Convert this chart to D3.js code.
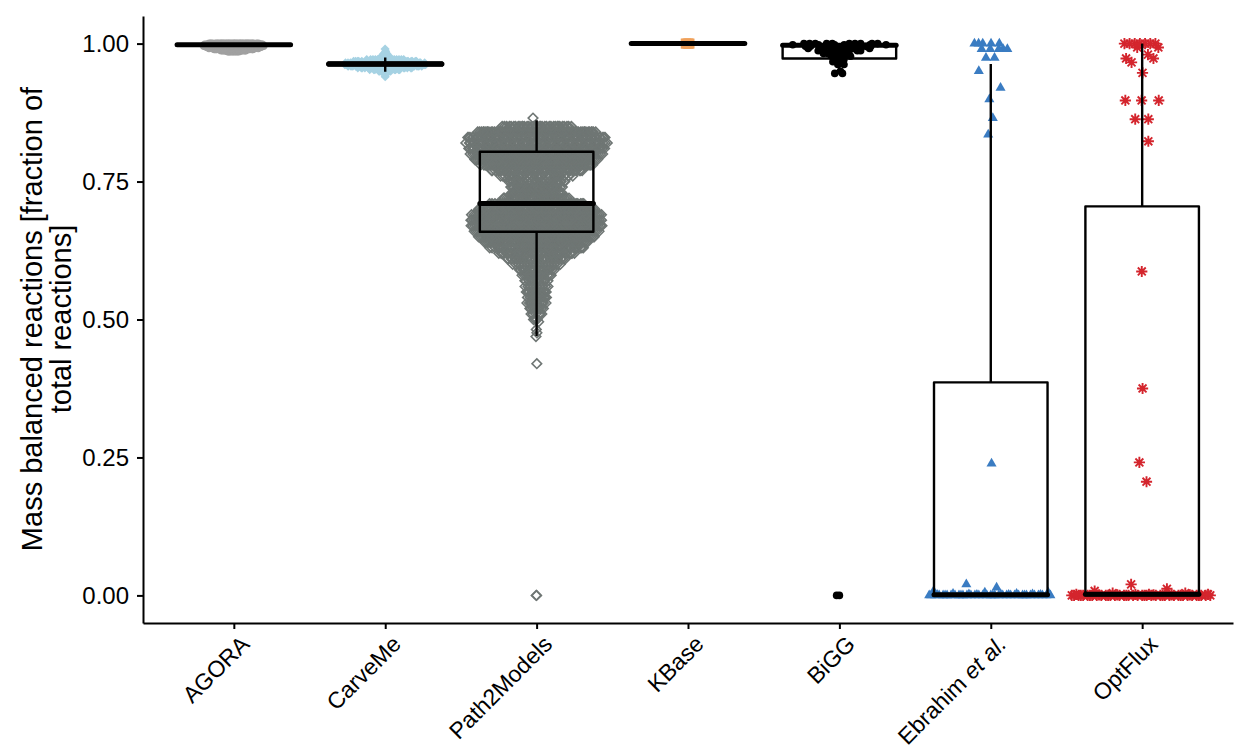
<!DOCTYPE html>
<html>
<head>
<meta charset="utf-8">
<script src="https://cdnjs.cloudflare.com/ajax/libs/d3/7.8.5/d3.min.js"></script>
<style>
  body { margin: 0; background: #ffffff; }
  text { font-family: "Liberation Sans", Arial, sans-serif; }
</style>
</head>
<body>
<div class="chart"></div>
<script>
var categories = ["AGORA", "CarveMe", "Path2Models", "KBase", "BiGG", "Ebrahim et al.", "OptFlux"];
var yTicks = [0, 0.25, 0.5, 0.75, 1.0];

// fraction of mass balanced reactions, and how many models sit at each value
var agoraValues = [0.986, 0.988, 0.99, 0.992, 0.994, 0.996, 0.998, 1.0];
var agoraCounts = [8, 16, 24, 30, 34, 36, 36, 30];

var carvemeValues = [0.94, 0.945, 0.95, 0.953, 0.956, 0.959, 0.962, 0.965, 0.968, 0.971, 0.974, 0.978, 0.982, 0.986, 0.99];
var carvemeCounts = [1, 2, 6, 14, 24, 32, 36, 34, 28, 16, 6, 3, 2, 1, 1];

var path2modelsValues = [0, 0.42, 0.469, 0.476, 0.482, 0.496, 0.50, 0.51, 0.52, 0.53, 0.54, 0.55, 0.56, 0.57,
                         0.58, 0.59, 0.60, 0.61, 0.62, 0.63, 0.64, 0.65, 0.66, 0.67, 0.68, 0.69, 0.70, 0.71,
                         0.72, 0.73, 0.74, 0.75, 0.76, 0.77, 0.78, 0.79, 0.80, 0.81, 0.82, 0.83, 0.84, 0.85, 0.865];
var path2modelsCounts = [2, 1, 1, 1, 1, 1, 3, 6, 9, 11, 11, 12, 12, 12,
                         15, 20, 24, 30, 40, 50, 56, 62, 66, 68, 70, 70, 66, 50,
                         30, 26, 26, 28, 36, 48, 60, 66, 70, 72, 74, 75, 75, 35, 1];

var kbaseValues = [1.0];
var kbaseCounts = [5];

var biggValues = [0, 0.946, 0.95, 0.962, 0.967, 0.971, 0.977, 0.982, 0.987, 0.991, 0.995, 0.998, 1.0];
var biggCounts = [2, 2, 1, 2, 2, 2, 4, 5, 7, 8, 8, 8, 10];

var ebrahimValues = [0, 0.001, 0.002, 0.003, 0.005, 0.008, 0.014, 0.02, 0.239, 0.835, 0.865, 0.899, 0.92, 0.95, 0.974, 0.99, 1.0];
var ebrahimCounts = [36, 4, 3, 2, 2, 1, 1, 1, 1, 1, 1, 1, 1, 1, 2, 5, 5];

var optfluxValues = [0, 0.001, 0.002, 0.004, 0.008, 0.012, 0.02, 0.206, 0.241, 0.375, 0.587,
                     0.823, 0.863, 0.897, 0.947, 0.966, 0.973, 0.98, 0.993, 1.0];
var optfluxCounts = [40, 5, 4, 2, 1, 1, 1, 1, 1, 1, 1, 1, 2, 3, 1, 1, 2, 1, 2, 7];

// box summaries per category
var boxLow    = [0.996, 0.949, 0.47, 1.0, 0.95, 0, 0];
var boxQ1     = [0.998, 0.960, 0.659, 1.0, 0.973, 0, 0];
var boxMedian = [0.998, 0.963, 0.710, 1.0, 0.997, 0.001, 0.002];
var boxQ3     = [0.999, 0.966, 0.804, 1.0, 0.999, 0.386, 0.705];
var boxHigh   = [1.0, 0.975, 0.861, 1.0, 1.0, 0.963, 1.0];

var groupValues = [agoraValues, carvemeValues, path2modelsValues, kbaseValues, biggValues, ebrahimValues, optfluxValues];
var groupCounts = [agoraCounts, carvemeCounts, path2modelsCounts, kbaseCounts, biggCounts, ebrahimCounts, optfluxCounts];

var markerShape = ["circle", "diamond", "openDiamond", "square", "dot", "triangle", "asterisk"];
var markerColor = ["#a1a1a1", "#a6d2e3", "#6f7674", "#f0a15b", "#000000", "#3a7cc2", "#d4252d"];
var swarmWidth  = [0.2, 0.28, 0.47, 0.02, 0.34, 0.42, 0.48];

window.addEventListener('load', onLoadCallback, false);

function onLoadCallback() {
    drawChart();
}

function nrd0(vals) {
    var hi = d3.deviation(vals) || 0;
    var iqr = d3.quantile(vals, 0.75) - d3.quantile(vals, 0.25);
    var lo = Math.min(hi, iqr / 1.34);
    if (!(lo > 0)) lo = hi || Math.abs(vals[0]) || 1;
    return 0.9 * lo * Math.pow(vals.length, -0.2);
}

function vanDerCorput(i) {
    var v = 0, denom = 1;
    while (i > 0) {
        denom *= 2;
        v += (i % 2) / denom;
        i = Math.floor(i / 2);
    }
    return v;
}

// quasirandom offsets, like ggbeeswarm::geom_quasirandom
function quasiRandom(g) {
    var values = groupValues[g],
        counts = groupCounts[g];
    var pts = [];
    values.forEach(function(v, k) {
        for (var j = 0; j < counts[k]; j++) pts.push(v);
    });
    pts.sort(d3.ascending);

    var bw = 0.5 * nrd0(pts);
    var dens = function(y) {
        return d3.sum(values, function(v, k) {
            return counts[k] * Math.exp(-0.5 * Math.pow((y - v) / bw, 2));
        });
    };
    var maxDens = d3.max(values, dens);

    return pts.map(function(y, i) {
        var offset = (vanDerCorput(i + 1) - 0.5) * 2 * swarmWidth[g] * dens(y) / maxDens;
        return { group: g, value: y, offset: offset };
    });
}

function diamondPath(r) {
    return "M0," + (-r) + "L" + r + ",0L0," + r + "L" + (-r) + ",0Z";
}

function markerPath(shape) {
    if (shape === "circle") return d3.symbol(d3.symbolCircle, Math.PI * 4.2 * 4.2)();
    if (shape === "dot") return d3.symbol(d3.symbolCircle, Math.PI * 3.8 * 3.8)();
    if (shape === "square") return d3.symbol(d3.symbolSquare, 100)();
    if (shape === "triangle") return d3.symbol(d3.symbolTriangle, 44)();
    if (shape === "diamond") return diamondPath(4.6);
    if (shape === "openDiamond") return diamondPath(4.8);
    var r = 5.6;
    var a = r * Math.SQRT1_2;
    return "M0," + (-r) + "V" + r + "M" + (-r) + ",0H" + r +
           "M" + (-a) + "," + (-a) + "L" + a + "," + a +
           "M" + (-a) + "," + a + "L" + a + "," + (-a);
}

function drawChart() {

    var width = 1235,
        height = 753;

    var xScale = d3.scalePoint()
                   .domain(categories)
                   .range([143, 1233])
                   .padding(0.6);
    var step = xScale.step();

    var yScale = d3.scaleLinear()
                   .domain([-0.05, 1.05])
                   .range([623, 16]);

    var svg = d3.select(".chart")
                .append("svg")
                .attr("width", width)
                .attr("height", height);

    // points
    var points = [];
    categories.forEach(function(c, g) {
        points = points.concat(quasiRandom(g));
    });

    svg.append("g")
       .selectAll("path")
       .data(points)
       .enter()
          .append("path")
          .attr("d", function(d) { return markerPath(markerShape[d.group]); })
          .attr("transform", function(d) {
              return "translate(" + (xScale(categories[d.group]) + d.offset * step) + "," + yScale(d.value) + ")";
          })
          .attr("fill", function(d) {
              var s = markerShape[d.group];
              return (s === "openDiamond" || s === "asterisk") ? "none" : markerColor[d.group];
          })
          .attr("stroke", function(d) {
              var s = markerShape[d.group];
              return (s === "openDiamond" || s === "asterisk") ? markerColor[d.group] : "none";
          })
          .attr("stroke-width", function(d) { return markerShape[d.group] === "asterisk" ? 1.9 : 1.6; });

    // boxes on top, no fill
    var half = 0.375 * step;
    var boxes = svg.append("g")
                   .selectAll("g")
                   .data(categories)
                   .enter()
                      .append("g");

    boxes.append("path")
         .attr("d", function(c, i) {
             var x = xScale(c);
             return "M" + x + "," + yScale(boxQ3[i]) + "V" + yScale(boxHigh[i]) +
                    "M" + x + "," + yScale(boxQ1[i]) + "V" + yScale(boxLow[i]);
         })
         .attr("stroke", "#000")
         .attr("stroke-width", 2.4)
         .attr("fill", "none");

    boxes.append("path")
         .attr("d", function(c, i) {
             var x = xScale(c);
             return "M" + (x - half) + "," + yScale(boxQ3[i]) + "H" + (x + half) +
                    "V" + yScale(boxQ1[i]) + "H" + (x - half) + "Z";
         })
         .attr("stroke", "#000")
         .attr("stroke-width", 2.4)
         .attr("stroke-linejoin", "round")
         .attr("fill", "none");

    boxes.append("line")
         .attr("x1", function(c) { return xScale(c) - half; })
         .attr("x2", function(c) { return xScale(c) + half; })
         .attr("y1", function(c, i) { return yScale(boxMedian[i]); })
         .attr("y2", function(c, i) { return yScale(boxMedian[i]); })
         .attr("stroke", "#000")
         .attr("stroke-width", 5)
         .attr("stroke-linecap", "round");

    // axes
    var yAxis = d3.axisLeft(yScale)
                  .tickValues(yTicks)
                  .tickFormat(d3.format(".2f"))
                  .tickSizeInner(6)
                  .tickSizeOuter(0)
                  .tickPadding(8);

    var xAxis = d3.axisBottom(xScale)
                  .tickSizeInner(6)
                  .tickSizeOuter(0);

    var yAxisG = svg.append("g")
                    .attr("transform", "translate(143, 0)")
                    .call(yAxis);

    var xAxisG = svg.append("g")
                    .attr("transform", "translate(0, 623)")
                    .call(xAxis);

    [yAxisG, xAxisG].forEach(function(ax) {
        ax.select(".domain").attr("stroke", "#000").attr("stroke-width", 2);
        ax.selectAll(".tick line").attr("stroke", "#000").attr("stroke-width", 2);
    });

    yAxisG.selectAll(".tick text")
          .attr("font-size", 24)
          .attr("fill", "#000");

    xAxisG.selectAll(".tick text").remove();
    xAxisG.selectAll(".tick")
          .append("text")
            .attr("transform", "translate(5, 11) rotate(-45)")
            .attr("text-anchor", "end")
            .attr("dy", "0.71em")
            .attr("font-size", 23)
            .attr("fill", "#000")
            .each(function(c) {
                var t = d3.select(this);
                if (c === "Ebrahim et al.") {
                    t.append("tspan").text("Ebrahim ");
                    t.append("tspan").attr("font-style", "italic").text("et al.");
                } else {
                    t.text(c);
                }
            });

    // y axis title
    var title = svg.append("text")
                   .attr("transform", "translate(0, 319) rotate(-90)")
                   .attr("text-anchor", "middle")
                   .attr("font-size", 29)
                   .attr("fill", "#000");
    title.append("tspan").attr("x", 0).attr("y", 42).text("Mass balanced reactions [fraction of");
    title.append("tspan").attr("x", 0).attr("y", 71).text("total reactions]");
}
</script>
</body>
</html>
